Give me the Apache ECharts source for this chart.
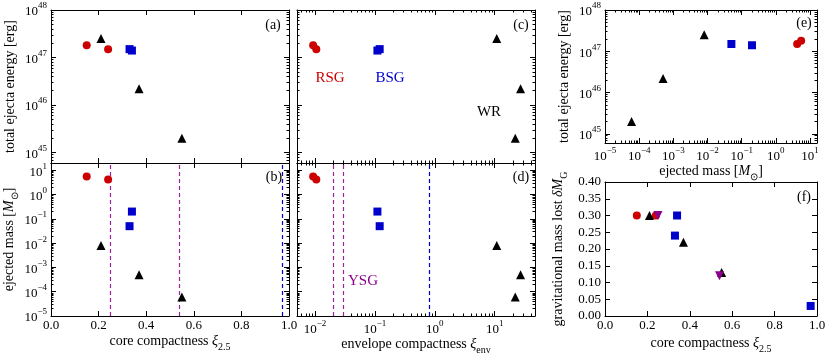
<!DOCTYPE html>
<html><head><meta charset="utf-8">
<script src="https://cdn.jsdelivr.net/npm/echarts@6/dist/echarts.min.js"></script>
<style>html,body{margin:0;padding:0;background:#fff}#c{width:831px;height:359px}</style>
</head><body><div id="c"></div>
<script>
// ---------------- data ----------------
const rsgCore   = [0.15, 0.24];
const rsgEnv    = [0.0093, 0.0105];
const rsgEnergy = [1.8e47, 1.5e47];
const rsgMass   = [5.5, 4.2];

const bsgCore   = [0.33, 0.34];
const bsgEnv    = [0.12, 0.11];
const bsgEnergy = [1.5e47, 1.4e47];
const bsgMass   = [0.05, 0.2];

const wrCore    = [0.21, 0.37, 0.55];
const wrEnv     = [10.8, 27, 22];
const wrEnergy  = [2.5e47, 2.2e46, 2.0e45];
const wrMass    = [0.008, 5e-4, 6e-5];

// panel (f): gravitational mass lost
const fRsgCore = [0.15, 0.24], fRsgDM = [0.30, 0.30];
const fBsgCore = [0.34, 0.33, 0.97], fBsgDM = [0.30, 0.24, 0.03];
const fWrCore  = [0.21, 0.37, 0.55], fWrDM  = [0.30, 0.22, 0.13];
const fYsgCore = [0.25, 0.54], fYsgDM = [0.30, 0.12];

// dashed boundaries
const coreYsgLines = [0.25, 0.54];
const coreBsgLines = [0.97];
const envYsgLines  = [0.0165, 0.025];
const envBsgLines  = [0.8];

// annotation texts
const panelTags = ['(a)', '(b)', '(c)', '(d)', '(e)', '(f)'];
const groupNames = ['RSG', 'BSG', 'WR', 'YSG'];

// ---------------- style ----------------
const FONT = 'Liberation Serif';
const RED = '#cc0000', BLUE = '#0000cc', BLACK = '#000000', PURPLE = '#a020a0', PURPLE_DARK = '#8b008b';

function zip(a, b) { return a.map((v, i) => [v, b[i]]); }
function expStr(e) { return (e < 0 ? '\u2212' : '') + Math.abs(e); }
const tickRich = {
  b: { fontFamily: FONT, fontSize: 13, color: '#000', lineHeight: 17, verticalAlign: 'bottom' },
  s: { fontFamily: FONT, fontSize: 9, color: '#000', lineHeight: 9, verticalAlign: 'top' }
};
function logFmt(v) {
  const e = Math.log10(v);
  const r = Math.round(e);
  if (Math.abs(e - r) > 1e-6) return '';
  return '{b|10}{s|' + expStr(r) + '}';
}
const nameRich = {
  t: { fontFamily: FONT, fontSize: 14, color: '#000', lineHeight: 18, verticalAlign: 'top' },
  i: { fontFamily: FONT, fontSize: 14, fontStyle: 'italic', color: '#000', lineHeight: 18, verticalAlign: 'top' },
  sub: { fontFamily: FONT, fontSize: 10, color: '#000', lineHeight: 10, verticalAlign: 'bottom' }
};

const grids = [
  { left: 51,  top: 10,  width: 238, height: 153 }, // a
  { left: 51,  top: 163, width: 238, height: 153 }, // b
  { left: 297, top: 10,  width: 238, height: 153 }, // c
  { left: 297, top: 163, width: 238, height: 153 }, // d
  { left: 605, top: 10,  width: 212, height: 133 }, // e
  { left: 605, top: 182, width: 212, height: 134 }  // f
];

const xAxes = [], yAxes = [];
function minorLogValues(lmin, lmax) {
  const out = [];
  for (let d = Math.floor(lmin); d <= Math.ceil(lmax); d++) {
    for (let k = 2; k <= 9; k++) {
      const v = d + Math.log10(k);
      if (v > lmin + 1e-9 && v < lmax - 1e-9) out.push(v);
    }
  }
  return out;
}
// c: {type, min, max, interval, labels, name, nameGap}
function addAxes(dim, gi, c) {
  const arr = dim === 'x' ? xAxes : yAxes;
  const sideA = dim === 'x' ? 'bottom' : 'left';
  const sideB = dim === 'x' ? 'top' : 'right';
  const base = {
    gridIndex: gi, type: c.type, min: c.min, max: c.max,
    splitLine: { show: false }, splitArea: { show: false },
    axisLine: { show: true, onZero: false, lineStyle: { color: '#000', width: 1 } },
    axisTick: { show: true, inside: true, length: 5, lineStyle: { color: '#000', width: 1 } },
    minorTick: { show: false }
  };
  if (c.type === 'value') base.interval = c.interval;
  if (c.type === 'log') base.logBase = 10;
  const main = Object.assign({}, base, {
    position: sideA,
    axisLabel: {
      show: !!c.labels, margin: dim === 'x' ? 3 : 4,
      fontFamily: FONT, fontSize: 13, color: '#000',
      formatter: c.type === 'log' ? logFmt : (v => v.toFixed(c.decimals)),
      rich: tickRich,
      showMinLabel: true, showMaxLabel: true
    }
  });
  if (c.name) {
    main.name = c.name; main.nameLocation = 'middle'; main.nameGap = c.nameGap;
    main.nameTextStyle = { fontFamily: FONT, fontSize: 14, color: '#000', rich: nameRich };
  }
  const mainIdx = arr.length; arr.push(main);
  arr.push(Object.assign({}, base, { position: sideB, axisLabel: { show: false } }));
  if (c.type === 'log') {
    const lmin = Math.log10(c.min), lmax = Math.log10(c.max);
    const mins = minorLogValues(lmin, lmax);
    [sideA, sideB].forEach(side => {
      arr.push({
        gridIndex: gi, type: 'value', position: side, min: lmin, max: lmax,
        splitLine: { show: false }, axisLine: { show: false, onZero: false },
        axisLabel: { show: false },
        axisTick: { show: true, inside: true, length: 2.5, customValues: mins, lineStyle: { color: '#000', width: 1 } }
      });
    });
  }
  return mainIdx;
}

const energyCfg = (labels, name) => ({ type: 'log', min: 6e44, max: 1e48, labels, name, nameGap: 30 });

// panel a
const ax_a = addAxes('x', 0, { type: 'value', min: 0, max: 1, interval: 0.2, decimals: 1, labels: false });
const ay_a = addAxes('y', 0, energyCfg(true, '{t|total ejecta energy [erg]}'));
// panel b
const ax_b = addAxes('x', 1, { type: 'value', min: 0, max: 1, interval: 0.2, decimals: 1, labels: true,
  name: '{t|core compactness }{i|\u03BE}{sub|2.5}', nameGap: 18 });
const ay_b = addAxes('y', 1, { type: 'log', min: 1e-5, max: 20, labels: true,
  name: '{t|ejected mass [}{i|M}{sub|\u2299}{t|]}', nameGap: 30 });
// panel c
const ax_c = addAxes('x', 2, { type: 'log', min: 0.005, max: 47, labels: false });
const ay_c = addAxes('y', 2, energyCfg(false));
// panel d
const ax_d = addAxes('x', 3, { type: 'log', min: 0.005, max: 47, labels: true,
  name: '{t|envelope compactness }{i|\u03BE}{sub|env}', nameGap: 20 });
const ay_d = addAxes('y', 3, { type: 'log', min: 1e-5, max: 20, labels: false });
// panel e
const ax_e = addAxes('x', 4, { type: 'log', min: 1e-5, max: 16, labels: true,
  name: '{t|ejected mass [}{i|M}{sub|\u2299}{t|]}', nameGap: 20 });
const ay_e = addAxes('y', 4, energyCfg(true, '{t|total ejecta energy [erg]}'));
// panel f
const ax_f = addAxes('x', 5, { type: 'value', min: 0, max: 1, interval: 0.2, decimals: 1, labels: true,
  name: '{t|core compactness }{i|\u03BE}{sub|2.5}', nameGap: 20 });
const ay_f = addAxes('y', 5, { type: 'value', min: 0, max: 0.4, interval: 0.05, decimals: 2, labels: true,
  name: '{t|gravitational mass lost }{i|\u03B4M}{sub|G}', nameGap: 36 });

function sc(xi, yi, data, symbol, color, size, rotate) {
  return {
    type: 'scatter', xAxisIndex: xi, yAxisIndex: yi, data, symbol, symbolSize: size,
    symbolRotate: rotate || 0, itemStyle: { color, opacity: 1 }, silent: true, animation: false, z: 5
  };
}
const CIRC = 8, SQ = 8, TRI = 9;
function groupSeries(xi, yi, rx, ry, bx, by, wx, wy) {
  return [
    sc(xi, yi, zip(rx, ry), 'circle', RED, CIRC),
    sc(xi, yi, zip(bx, by), 'rect', BLUE, SQ),
    sc(xi, yi, zip(wx, wy), 'triangle', BLACK, TRI)
  ];
}
function vlines(xi, yi, vals, color) {
  return {
    type: 'scatter', xAxisIndex: xi, yAxisIndex: yi, data: [], silent: true, animation: false,
    markLine: {
      silent: true, symbol: ['none', 'none'], animation: false,
      label: { show: false },
      lineStyle: { color, type: [4, 3], width: 1.2 },
      data: vals.map(v => ({ xAxis: v }))
    }
  };
}

const series = [].concat(
  groupSeries(ax_a, ay_a, rsgCore, rsgEnergy, bsgCore, bsgEnergy, wrCore, wrEnergy),
  [vlines(ax_b, ay_b, coreYsgLines, PURPLE), vlines(ax_b, ay_b, coreBsgLines, BLUE)],
  groupSeries(ax_b, ay_b, rsgCore, rsgMass, bsgCore, bsgMass, wrCore, wrMass),
  groupSeries(ax_c, ay_c, rsgEnv, rsgEnergy, bsgEnv, bsgEnergy, wrEnv, wrEnergy),
  [vlines(ax_d, ay_d, envYsgLines, PURPLE), vlines(ax_d, ay_d, envBsgLines, BLUE)],
  groupSeries(ax_d, ay_d, rsgEnv, rsgMass, bsgEnv, bsgMass, wrEnv, wrMass),
  groupSeries(ax_e, ay_e, rsgMass, rsgEnergy, bsgMass, bsgEnergy, wrMass, wrEnergy),
  groupSeries(ax_f, ay_f, fRsgCore, fRsgDM, fBsgCore, fBsgDM, fWrCore, fWrDM),
  [sc(ax_f, ay_f, zip(fYsgCore, fYsgDM), 'triangle', PURPLE_DARK, TRI, 180)]
);

function txt(text, x, y, color, size) {
  return { type: 'text', x, y, silent: true, z: 10,
    style: { text, fill: color, font: size + 'px "' + FONT + '"', textAlign: 'center', textVerticalAlign: 'middle' } };
}
const tagPos = [[273, 25], [274, 177], [521, 25], [521, 177], [804, 23], [804, 197]];
const graphic = panelTags.map((t, i) => txt(t, tagPos[i][0], tagPos[i][1], '#000', 14)).concat([
  txt(groupNames[0], 330, 78, RED, 15),
  txt(groupNames[1], 390, 78, BLUE, 15),
  txt(groupNames[2], 489, 112, BLACK, 15),
  txt(groupNames[3], 363, 281, PURPLE_DARK, 15)
]);

const chart = echarts.init(document.getElementById('c'), null, { renderer: 'canvas' });
chart.setOption({
  backgroundColor: '#fff',
  animation: false,
  grid: grids,
  xAxis: xAxes,
  yAxis: yAxes,
  series,
  graphic
});
</script>
</body></html>
